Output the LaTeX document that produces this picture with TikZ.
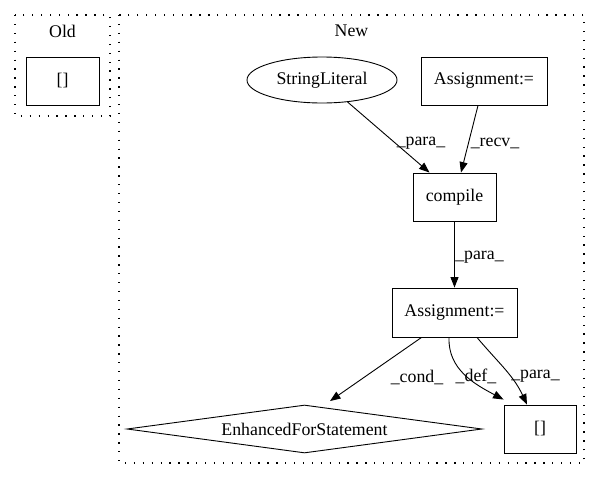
\documentclass[tikz,border=0pt]{standalone}
\usepackage{fontspec}
\setmainfont{Liberation Serif}
\usetikzlibrary{shapes.geometric,arrows.meta,calc}
\begin{document}
\begin{tikzpicture}[x=1pt,y=-1pt,
  every node/.style={font=\fontsize{17.8}{20}\selectfont},
  box/.style={draw,line width=0.9pt,rectangle,inner sep=0pt},
  cluster/.style={draw,line width=1.1pt,dash pattern=on 1.3pt off 7.6pt},
  edge/.style={draw,line width=0.9pt,-{Triangle[length=10.5pt,width=8pt]}},
  elabel/.style={inner sep=0pt}]
\useasboundingbox (0,0) rectangle (603,480);
% clusters
\draw[cluster] (15,15) rectangle (110,116);
\node (oldlbl) at (62.5,31) {Old};
\draw[cluster] (119,15) rectangle (584,463);
\node (newlbl) at (351.5,31) {New};
% nodes
\node[box,minimum width=73pt,minimum height=48pt] (oldb) at (62.5,81) {[]};
\node[draw,line width=0.9pt,ellipse,minimum width=150pt,minimum height=46pt,inner sep=0pt] (sl) at (322,80) {StringLiteral};
\node[box,minimum width=126pt,minimum height=48pt] (a1) at (484,81) {Assignment:=};
\node[box,minimum width=83pt,minimum height=48pt] (comp) at (454.5,197) {compile};
\node[box,minimum width=125pt,minimum height=49pt] (a2) at (454.5,312.5) {Assignment:=};
\node[draw,line width=0.9pt,diamond,aspect=7.4,minimum width=355pt,minimum height=48pt,inner sep=0pt] (fs) at (304.5,429) {EnhancedForStatement};
\node[box,minimum width=72pt,minimum height=48pt] (br) at (540,429) {[]};
% edges
\draw[edge] (sl) -- ([xshift=-25pt]comp.north);
\node[elabel] (lp1) at (421,143) {\_para\_};
\draw[edge] ([xshift=-6pt]a1.south) -- ([xshift=6.5pt]comp.north);
\node[elabel] (lr) at (495,143) {\_recv\_};
\draw[edge] (comp.south) -- (a2.north);
\node[elabel] (lp2) at (479.5,257) {\_para\_};
\draw[edge] ([xshift=-33pt]a2.south) -- ($(fs.north)+(25.5pt,3.5pt)$);
\node[elabel] (lc) at (417,377) {\_cond\_};
\draw[edge] ([xshift=-5.5pt]a2.south) to[out=-92,in=152] ([yshift=5pt]br.north west);
\node[elabel] (ld) at (476,376) {\_def\_};
\draw[edge] ([xshift=22.5pt]a2.south) to[out=-50,in=115] ([xshift=-13pt]br.north);
\node[elabel] (lp3) at (535.5,376) {\_para\_};
\end{tikzpicture}
\end{document}
